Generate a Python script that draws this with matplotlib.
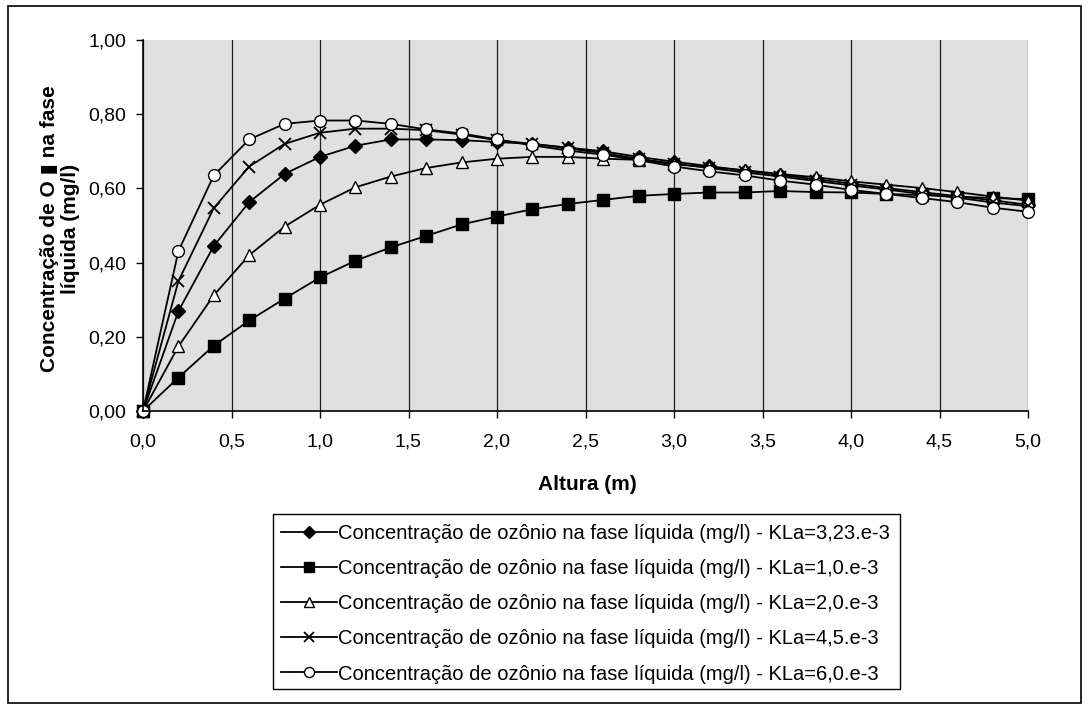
import matplotlib
matplotlib.use("Agg")
import matplotlib.pyplot as plt
from matplotlib.ticker import FuncFormatter, MultipleLocator
from matplotlib.patches import Rectangle

plt.rcParams['font.family'] = ['Liberation Sans', 'DejaVu Sans']

altura = [round(0.2 * i, 1) for i in range(26)]

kla_323 = [0.0, 0.269, 0.445, 0.563, 0.639, 0.685, 0.715, 0.732, 0.732, 0.730, 0.725,
           0.720, 0.710, 0.700, 0.685, 0.672, 0.660, 0.648, 0.636, 0.625, 0.613,
           0.601, 0.590, 0.579, 0.568, 0.556]
kla_10 = [0.0, 0.090, 0.176, 0.244, 0.303, 0.360, 0.405, 0.441, 0.472, 0.503, 0.524,
          0.544, 0.558, 0.569, 0.580, 0.585, 0.589, 0.589, 0.593, 0.590, 0.589,
          0.585, 0.582, 0.578, 0.574, 0.571]
kla_20 = [0.0, 0.174, 0.312, 0.420, 0.497, 0.556, 0.603, 0.632, 0.655, 0.670, 0.680,
          0.685, 0.685, 0.680, 0.677, 0.665, 0.657, 0.649, 0.639, 0.630, 0.619,
          0.610, 0.601, 0.590, 0.578, 0.567]
kla_45 = [0.0, 0.350, 0.547, 0.659, 0.720, 0.750, 0.761, 0.761, 0.757, 0.745, 0.730,
          0.720, 0.708, 0.695, 0.680, 0.667, 0.655, 0.643, 0.632, 0.620, 0.608,
          0.597, 0.585, 0.575, 0.562, 0.552]
kla_60 = [0.0, 0.431, 0.635, 0.732, 0.774, 0.783, 0.783, 0.774, 0.759, 0.748, 0.732,
          0.716, 0.702, 0.691, 0.676, 0.659, 0.646, 0.635, 0.621, 0.610, 0.596,
          0.585, 0.574, 0.563, 0.548, 0.537]

labels = [
    "Concentração de ozônio na fase líquida (mg/l) - KLa=3,23.e-3",
    "Concentração de ozônio na fase líquida (mg/l) - KLa=1,0.e-3",
    "Concentração de ozônio na fase líquida (mg/l) - KLa=2,0.e-3",
    "Concentração de ozônio na fase líquida (mg/l) - KLa=4,5.e-3",
    "Concentração de ozônio na fase líquida (mg/l) - KLa=6,0.e-3",
]

W, H = 1089, 709
fig = plt.figure(figsize=(W / 100, H / 100), dpi=100)
fig.patches.append(Rectangle((8 / W, 6 / H), (1081 - 8) / W, (703 - 6) / H,
                             transform=fig.transFigure, fill=False,
                             edgecolor='black', linewidth=1.2))
ax = fig.add_axes([143 / W, 1 - 411 / H, (1028 - 143) / W, (411 - 40) / H])
ax.set_facecolor('#E0E0E0')

styles = [
    (kla_323, dict(marker='D', markersize=7, markerfacecolor='black', markeredgecolor='black')),
    (kla_10, dict(marker='s', markersize=8, markerfacecolor='black', markeredgecolor='black')),
    (kla_20, dict(marker='^', markersize=8.5, markerfacecolor='white', markeredgecolor='black')),
    (kla_45, dict(marker='x', markersize=8, markeredgecolor='black', markeredgewidth=1.3)),
    (kla_60, dict(marker='o', markersize=8.5, markerfacecolor='white', markeredgecolor='black')),
]
for (vals, st), lab in zip(styles, labels):
    ax.plot(altura, vals, color='black', linewidth=1.3, label=lab, clip_on=False, **st)

ax.set_xlim(0, 5.0)
ax.set_ylim(0, 1.0)
ax.xaxis.set_major_locator(MultipleLocator(0.5))
ax.yaxis.set_major_locator(MultipleLocator(0.2))
ax.xaxis.set_major_formatter(FuncFormatter(lambda v, p: f"{v:.1f}".replace('.', ',')))
ax.yaxis.set_major_formatter(FuncFormatter(lambda v, p: f"{v:.2f}".replace('.', ',')))
ax.grid(axis='x', color='#202020', linewidth=0.9)
ax.set_axisbelow(True)
ax.tick_params(axis='both', direction='out', length=5, width=1, labelsize=14)
ax.tick_params(axis='x', pad=11)
ax.tick_params(axis='y', pad=7)
for side in ['top', 'right']:
    ax.spines[side].set_visible(False)
for side in ['left', 'bottom']:
    ax.spines[side].set_linewidth(1.2)

fig.text(587 / W, 1 - 485 / H, "Altura (m)", fontsize=15, fontweight='bold',
         ha='center', va='center')
fig.text(60 / W, 1 - 229 / H, "Concentração de O \u25AE na fase\nlíquida (mg/l)",
         fontsize=15, fontweight='bold', rotation=90, ha='center', va='center',
         multialignment='center', linespacing=1.15)

# legend frame drawn explicitly at its place in the figure
fig.patches.append(Rectangle((273 / W, 1 - 689 / H), (900 - 273) / W, (689 - 514) / H,
                             transform=fig.transFigure, fill=False,
                             edgecolor='black', linewidth=1.0))
leg = fig.legend(loc='upper left', bbox_to_anchor=(273 / W, 1 - 516 / H),
                 frameon=False, fontsize=14.5,
                 handlelength=2.8, handletextpad=0.05, labelspacing=0.8,
                 borderpad=0.4, borderaxespad=0, markerscale=0.85)

fig.savefig("out.png", dpi=100)
